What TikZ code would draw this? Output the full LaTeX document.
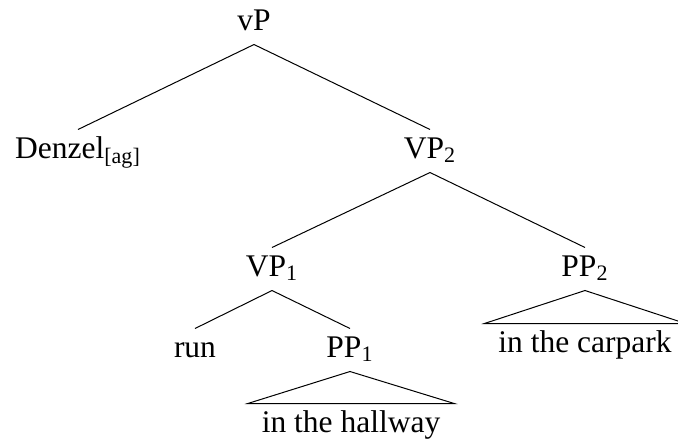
\documentclass[tikz,border=0pt]{standalone}
\usepackage{fontspec}
\setmainfont{Liberation Serif}
\usepackage{tikz}
\usetikzlibrary{positioning}
\tikzset{cat/.style={anchor=base, text height=11pt, text depth=4pt, inner ysep=3pt, inner xsep=0pt},
  leaf/.style={cat, inner xsep=6.75pt}}

\begin{document}
\begin{tikzpicture}[x=0.5pt, y=-0.5pt, line width=0.5pt, every node/.style={font=\fontsize{15.75}{19}\selectfont}]
\useasboundingbox (0,0) rectangle (678,441);
\node[cat] (vP) at (254,30) {vP};
\node[cat] (dz) at (78,158) {Denzel\textsubscript{[ag]}};
\node[cat] (vp2) at (430,158) {VP\textsubscript{2}};
\node[cat] (vp1) at (272,276) {VP\textsubscript{1}};
\node[cat] (pp2) at (585,276) {PP\textsubscript{2}};
\node[cat] (run) at (195,357) {run};
\node[cat] (pp1) at (350,357) {PP\textsubscript{1}};
\node[leaf] (hall) at (351,432) {in the hallway};
\node[leaf] (car) at (585,352) {in the carpark};
\draw (vP.south) -- (dz.north);
\draw (vP.south) -- (vp2.north);
\draw (vp2.south) -- (vp1.north);
\draw (vp2.south) -- (pp2.north);
\draw (vp1.south) -- (run.north);
\draw (vp1.south) -- (pp1.north);
\draw (pp1.south) -- (hall.north west) -- (hall.north east) -- cycle;
\draw (pp2.south) -- (car.north west) -- (car.north east) -- cycle;
\end{tikzpicture}
\end{document}
